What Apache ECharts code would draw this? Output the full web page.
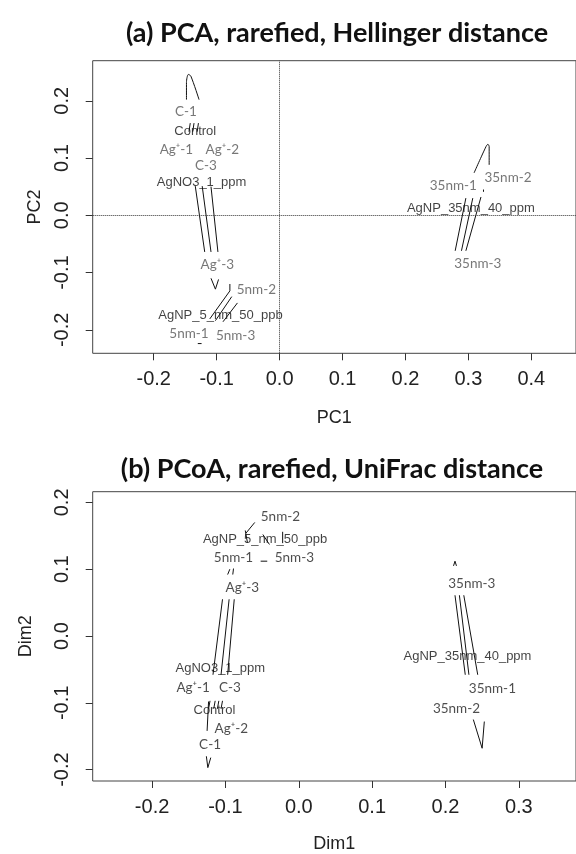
<!DOCTYPE html>
<html>
<head>
<meta charset="utf-8">
<script src="https://cdn.jsdelivr.net/npm/echarts@6.0.0/dist/echarts.min.js"></script>
<style>
  html, body { margin: 0; padding: 0; background: #fff; }
  #chart { width: 576px; height: 854px; }
</style>
</head>
<body>
<div id="chart"></div>
<script>
// (a) PCA, Hellinger — sample labels [name, PC1, PC2]
const pcaGray = [
  ['C-1', -0.149, 0.181], ['Ag⁺-1', -0.164, 0.115], ['Ag⁺-2', -0.091, 0.115],
  ['C-3', -0.117, 0.086], ['Ag⁺-3', -0.099, -0.087], ['5nm-2', -0.037, -0.130],
  ['5nm-1', -0.144, -0.206], ['5nm-3', -0.070, -0.210],
  ['35nm-1', 0.276, 0.051], ['35nm-2', 0.363, 0.066], ['35nm-3', 0.315, -0.085]
];
const pcaBlack = [
  ['Control', -0.134, 0.147], ['AgNO3_1_ppm', -0.124, 0.057],
  ['AgNP_5_nm_50_ppb', -0.094, -0.175], ['AgNP_35nm_40_ppm', 0.304, 0.012]
];
const pcaStrokes = [
  [[-0.148, 0.202], [-0.148, 0.232], [-0.145, 0.246], [-0.141, 0.243], [-0.128, 0.202]],
  [[-0.144, 0.146], [-0.142, 0.161]], [[-0.138, 0.146], [-0.136, 0.161]], [[-0.131, 0.146], [-0.129, 0.161]],
  [[-0.134, 0.051], [-0.119, -0.064]], [[-0.123, 0.051], [-0.109, -0.064]], [[-0.109, 0.050], [-0.098, -0.064]],
  [[-0.109, -0.110], [-0.102, -0.129], [-0.097, -0.112]],
  [[-0.079, -0.120], [-0.079, -0.132], [-0.111, -0.181]],
  [[-0.076, -0.142], [-0.102, -0.184]], [[-0.067, -0.153], [-0.090, -0.186]],
  [[-0.130, -0.224], [-0.127, -0.227], [-0.124, -0.224]],
  [[0.309, 0.074], [0.328, 0.120], [0.331, 0.124], [0.333, 0.120], [0.333, 0.088]],
  [[0.324, 0.041], [0.324, 0.045]],
  [[0.296, 0.030], [0.279, -0.062]], [[0.307, 0.030], [0.289, -0.062]], [[0.320, 0.032], [0.296, -0.062]]
];
const pcaXTicks = [-0.2, -0.1, 0.0, 0.1, 0.2, 0.3, 0.4];
const pcaYTicks = [-0.2, -0.1, 0.0, 0.1, 0.2];

// (b) PCoA, UniFrac — sample labels [name, Dim1, Dim2]
const pcoaGray = [
  ['5nm-2', -0.025, 0.178], ['5nm-1', -0.089, 0.118], ['5nm-3', -0.006, 0.118],
  ['Ag⁺-3', -0.077, 0.072], ['Ag⁺-1', -0.144, -0.078], ['C-3', -0.094, -0.078],
  ['Ag⁺-2', -0.092, -0.138], ['C-1', -0.121, -0.163],
  ['35nm-3', 0.236, 0.079], ['35nm-1', 0.264, -0.079], ['35nm-2', 0.215, -0.109]
];
const pcoaBlack = [
  ['AgNP_5_nm_50_ppb', -0.046, 0.144], ['AgNO3_1_ppm', -0.107, -0.048],
  ['Control', -0.115, -0.112], ['AgNP_35nm_40_ppm', 0.230, -0.030]
];
const pcoaStrokes = [
  [[-0.060, 0.170], [-0.072, 0.154]],
  [[-0.073, 0.158], [-0.070, 0.140]], [[-0.049, 0.152], [-0.040, 0.137]], [[-0.022, 0.156], [-0.022, 0.139]],
  [[-0.052, 0.112], [-0.043, 0.112]],
  [[-0.094, 0.100], [-0.097, 0.092]], [[-0.089, 0.101], [-0.090, 0.092]],
  [[-0.104, 0.055], [-0.117, -0.058]], [[-0.095, 0.055], [-0.106, -0.058]], [[-0.088, 0.055], [-0.097, -0.058]],
  [[-0.123, -0.109], [-0.121, -0.097]], [[-0.116, -0.109], [-0.114, -0.097]],
  [[-0.111, -0.109], [-0.109, -0.097]], [[-0.106, -0.109], [-0.104, -0.097]],
  [[-0.123, -0.098], [-0.125, -0.142]],
  [[-0.126, -0.180], [-0.124, -0.197], [-0.120, -0.182]],
  [[0.211, 0.105], [0.213, 0.112], [0.215, 0.105]],
  [[0.213, 0.061], [0.227, -0.058]], [[0.219, 0.061], [0.232, -0.058]], [[0.225, 0.061], [0.244, -0.058]],
  [[0.238, -0.125], [0.250, -0.168], [0.253, -0.128]]
];
const pcoaXTicks = [-0.2, -0.1, 0.0, 0.1, 0.2, 0.3];
const pcoaYTicks = [-0.2, -0.1, 0.0, 0.1, 0.2];

const chart = echarts.init(document.getElementById('chart'));

const tickFont = { fontFamily: 'Liberation Sans', fontSize: 20, color: '#222' };

function xAxis(grid, min, max, ticks, name, gap) {
  return {
    gridIndex: grid, type: 'value', min, max,
    axisLine: { show: false, onZero: false }, splitLine: { show: false },
    axisTick: { show: true, length: 7, customValues: ticks, lineStyle: { color: '#333' } },
    axisLabel: Object.assign({ customValues: ticks, margin: 16, formatter: v => v.toFixed(1) }, tickFont),
    name, nameLocation: 'middle', nameGap: gap,
    nameTextStyle: { fontFamily: 'Liberation Sans', fontSize: 18, color: '#222' }
  };
}
function yAxis(grid, min, max, ticks, name, gap) {
  return {
    gridIndex: grid, type: 'value', min, max,
    axisLine: { show: false, onZero: false }, splitLine: { show: false },
    axisTick: { show: true, length: 7, customValues: ticks, lineStyle: { color: '#333' } },
    axisLabel: Object.assign({ customValues: ticks, margin: 20, rotate: 90, formatter: v => v.toFixed(1) }, tickFont),
    name, nameLocation: 'middle', nameGap: gap, nameRotate: 90,
    nameTextStyle: { fontFamily: 'Liberation Sans', fontSize: 18, color: '#222' }
  };
}
function labels(idx, items, color, font, size) {
  return {
    type: 'scatter', xAxisIndex: idx, yAxisIndex: idx, symbolSize: 1, silent: true,
    itemStyle: { color: 'rgba(0,0,0,0)' },
    data: items.map(d => ({ name: d[0], value: [d[1], d[2]] })),
    label: { show: true, position: 'inside', formatter: '{b}', color, fontFamily: font, fontSize: size }
  };
}
function strokes(idx, list) {
  return list.map(pts => ({
    type: 'line', xAxisIndex: idx, yAxisIndex: idx, data: pts, symbol: 'none', silent: true,
    smooth: pts.length > 3 ? 0.3 : false,
    lineStyle: { color: '#111', width: 1 }
  }));
}

const gray1 = labels(0, pcaGray, '#555', 'Lato', 13.5);
gray1.markLine = {
  silent: true, symbol: 'none', label: { show: false },
  lineStyle: { type: 'dotted', color: '#333', width: 1 },
  data: [{ xAxis: 0 }, { yAxis: 0 }]
};

chart.setOption({
  animation: false,
  title: [
    { text: '(a) PCA, rarefied, Hellinger distance', left: 332, top: 15, textAlign: 'center',
      textStyle: { fontFamily: 'Lato', fontWeight: 'bold', fontSize: 27, color: '#111' } },
    { text: '(b) PCoA, rarefied, UniFrac distance', left: 327, top: 451, textAlign: 'center',
      textStyle: { fontFamily: 'Lato', fontWeight: 'bold', fontSize: 27, color: '#111' } }
  ],
  grid: [
    { left: 92.7, top: 60.7, width: 484.3, height: 292.6, show: true, borderColor: '#444', borderWidth: 1 },
    { left: 92.7, top: 491.7, width: 484.3, height: 291.6, show: true, borderColor: '#444', borderWidth: 1 }
  ],
  xAxis: [
    xAxis(0, -0.297, 0.471, pcaXTicks, 'PC1', 56),
    xAxis(1, -0.281, 0.378, pcoaXTicks, 'Dim1', 54)
  ],
  yAxis: [
    yAxis(0, -0.241, 0.270, pcaYTicks, 'PC2', 49),
    yAxis(1, -0.217, 0.216, pcoaYTicks, 'Dim2', 58)
  ],
  series: [
    ...strokes(0, pcaStrokes),
    ...strokes(1, pcoaStrokes),
    gray1,
    labels(0, pcaBlack, '#111', 'Liberation Sans', 13),
    labels(1, pcoaGray, '#222', 'Lato', 13.5),
    labels(1, pcoaBlack, '#111', 'Liberation Sans', 13)
  ]
});
</script>
</body>
</html>
